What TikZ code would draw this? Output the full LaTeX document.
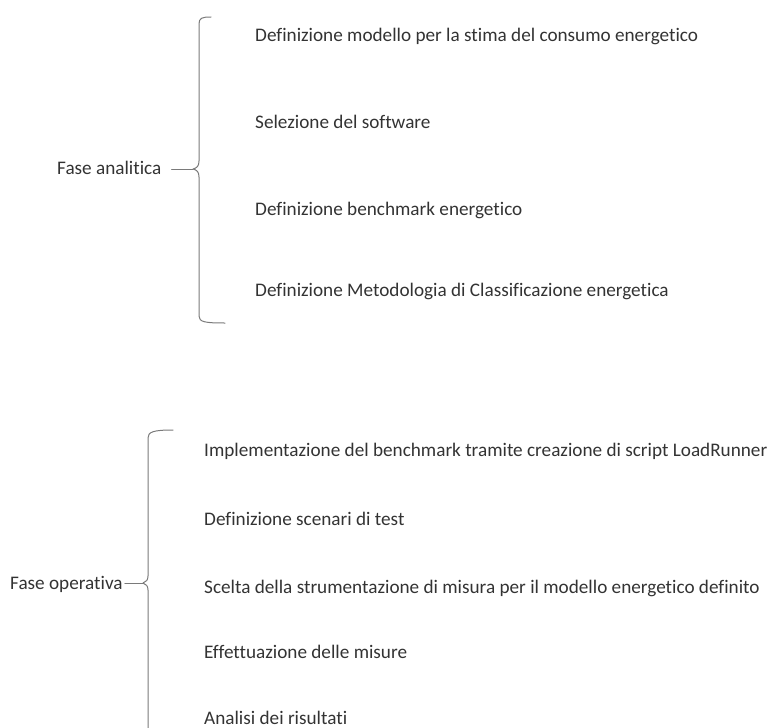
\documentclass[tikz,border=0pt]{standalone}
\usepackage{fontspec}
\setmainfont{Carlito}[Ligatures={NoCommon,NoRare,NoContextual}]
\definecolor{txt}{HTML}{333333}
\definecolor{brc}{HTML}{7A7A7A}
\begin{document}
\begin{tikzpicture}[x=1pt,y=-1pt,
  item/.style={anchor=base west,inner sep=0pt,text=txt,font=\fontsize{19.2}{22}\selectfont},
  brace/.style={draw=brc,line width=1pt,line cap=round,line join=round}]
\useasboundingbox (0,0) rectangle (771,728);
% top group
\node[item] (fa) at (57,174) {Fase analitica};
\node[item] (a1) at (255,41) {Definizione modello per la stima del consumo energetico};
\node[item] (a2) at (255,128) {Selezione del software};
\node[item] (a3) at (255,215) {Definizione benchmark energetico};
\node[item] (a4) at (255,296) {Definizione Metodologia di Classificazione energetica};
\coordinate (tipA) at (193,169);
\draw[brace] (211,17) .. controls (202,17) and (199,18) .. (199,24) -- (199,161)
  .. controls (199,166) and (197,168) .. (tipA) .. controls (197,170) and (199,172) .. (199,177)
  -- (199,316) .. controls (199,322) and (205,323) .. (225,323);
\draw[brace] ([xshift=10pt]fa.east |- tipA) -- (tipA);
% bottom group
\node[item] (fo) at (10,589) {Fase operativa};
\node[item] (b1) at (204,456) {Implementazione del benchmark tramite creazione di script LoadRunner};
\node[item] (b2) at (204,525) {Definizione scenari di test};
\node[item] (b3) at (204,593) {Scelta della strumentazione di misura per il modello energetico definito};
\node[item] (b4) at (204,658) {Effettuazione delle misure};
\node[item] (b5) at (204,724) {Analisi dei risultati};
\coordinate (tipB) at (143,583);
\draw[brace] (173,430) .. controls (153,430) and (148,432) .. (148,438) -- (148,576)
  .. controls (148,580) and (146,582) .. (tipB) .. controls (146,584) and (148,586) .. (148,590)
  -- (148,728);
\draw[brace] ([xshift=2pt]fo.east |- tipB) -- (tipB);
\end{tikzpicture}
\end{document}
